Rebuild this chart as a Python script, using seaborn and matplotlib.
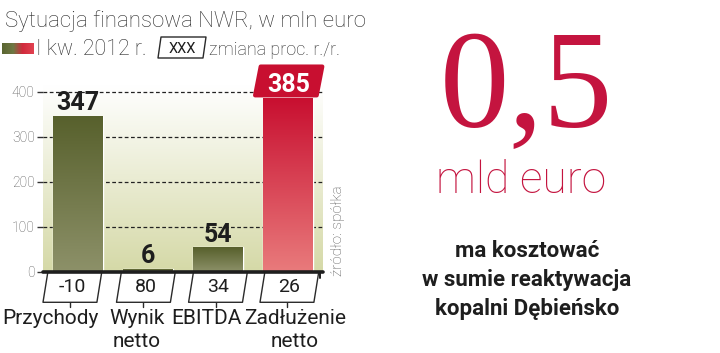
import numpy as np
import pandas as pd
import seaborn as sns
import matplotlib.pyplot as plt
from matplotlib.patches import Polygon, Rectangle
from matplotlib.colors import LinearSegmentedColormap

# --- data ---
categories = ["Przychody", "Wynik\nnetto", "EBITDA", "Zadłużenie\nnetto"]
values_q1_2012 = [347, 6, 54, 385]
change_yoy = [-10, 80, 34, 26]
highlight = [False, False, False, True]
yticks = [0, 100, 200, 300, 400]

title = "Sytuacja finansowa NWR, w mln euro"
legend_bar = "I kw. 2012 r."
legend_box = "XXX"
legend_change = "zmiana proc. r./r."
source = "źródło: spółka"
big_number = "0,5"
big_unit = "mld euro"
caption_lines = ["ma kosztować", "w sumie reaktywacja", "kopalni Dębieńsko"]

# --- styling ---
OLIVE_TOP, OLIVE_BOT = "#57602c", "#8d9169"
RED_TOP, RED_BOT = "#c80f30", "#e97b7c"
RED_TEXT = "#c4143f"
INK = "#1e1e1e"
label_dx = [-0.40, -0.16, -0.16, 0.10]
box_dx = [-0.08, -0.03, 0.0, 0.02]

sns.set_style("white")
plt.rcParams["font.family"] = ["Roboto", "DejaVu Sans"]

W, H = 720, 353
fig = plt.figure(figsize=(W / 100, H / 100), dpi=100)


def px(x, y, w, h):
    return [x / W, 1 - (y + h) / H, w / W, h / H]


ax = fig.add_axes(px(43, 85, 280, 186.7))

# background gradient
bg = LinearSegmentedColormap.from_list("bg", ["#d5d9a7", "#ffffff"])
grad = np.linspace(0, 1, 256).reshape(-1, 1)
ax.imshow(grad, cmap=bg, extent=[-0.5, 3.5, 0, 415], origin="lower",
          aspect="auto", zorder=0)

df = pd.DataFrame({"kategoria": categories, "wartosc": values_q1_2012})
palette = [RED_TOP if h else OLIVE_TOP for h in highlight]
sns.barplot(data=df, x="kategoria", y="wartosc", hue="kategoria", palette=palette,
            width=0.714, legend=False, saturation=1, ax=ax, zorder=2)

# vertical gradient on each bar
for bar, hi in zip(ax.patches, highlight):
    cm = LinearSegmentedColormap.from_list("g", [RED_BOT, RED_TOP] if hi else [OLIVE_BOT, OLIVE_TOP])
    x0, w, h = bar.get_x(), bar.get_width(), bar.get_height()
    im = ax.imshow(grad, cmap=cm, extent=[x0, x0 + w, 0, h], origin="lower",
                   aspect="auto", zorder=3)
    im.set_clip_path(bar)

ax.set_xlim(-0.5, 3.5)
ax.set_ylim(0, 415)
ax.set_yticks(yticks)
ax.set_xticks([])
ax.set_xlabel("")
ax.set_ylabel("")
for s in ax.spines.values():
    s.set_visible(False)
ax.set_axisbelow(True)
ax.yaxis.grid(True, color="#222222", lw=0.9, ls=(0, (3, 2)))
ax.tick_params(axis="y", left=True, length=4, width=1, color="#333333",
               labelcolor="#555555", labelsize=10, pad=2)
for t in ax.get_yticklabels():
    t.set_fontweight("light")

# baseline
ax.axhline(0, color=INK, lw=2.6, zorder=5, clip_on=False)
ax.plot([3.46, 3.46], [0, -14], color=INK, lw=1.4, clip_on=False, zorder=5)

# value labels
for i, (v, hi) in enumerate(zip(values_q1_2012, highlight)):
    if hi:
        cx, hw, sl = i + 0.01, 0.44, 0.04
        ax.add_patch(Polygon([(cx - hw + sl, 456), (cx + hw + sl, 456),
                              (cx + hw - sl, 392), (cx - hw - sl, 392)],
                             closed=True, fc=RED_TOP, ec=RED_TOP, lw=3,
                             joinstyle="round", clip_on=False, zorder=6))
        ax.text(cx, 400, f"{v}", color="white", ha="center", va="baseline",
                fontsize=18, fontweight="bold", clip_on=False, zorder=7)
    else:
        ax.annotate(f"{v}", (i, v), xytext=(0, 4), textcoords="offset points",
                    ha="center", va="baseline", fontsize=18, fontweight="bold",
                    color=INK, annotation_clip=False)

# change boxes and category labels
for i, (c, lab) in enumerate(zip(change_yoy, categories)):
    cx, hw, sl = i + box_dx[i], 0.385, 0.035
    ax.add_patch(Polygon([(cx - hw + sl, 0), (cx + hw + sl, 0),
                          (cx + hw - sl, -68), (cx - hw - sl, -68)],
                         closed=True, fc="white", ec="#2a2a2a", lw=1,
                         joinstyle="round", clip_on=False, zorder=4))
    ax.text(cx, -45, f"{c}", ha="center", va="baseline", fontsize=14,
            color=INK, clip_on=False, zorder=6)
    ax.plot([cx - sl, cx - sl], [-68, -79], color="#2a2a2a", lw=1, clip_on=False)
    ax.text(i + label_dx[i], -83, lab, ha="center", va="top", fontsize=15,
            color=INK, linespacing=1.26, clip_on=False)

# overlay in pixel coordinates for titles, legend and side note
ov = fig.add_axes([0, 0, 1, 1])
ov.set_xlim(0, W)
ov.set_ylim(H, 0)
ov.axis("off")

sw = LinearSegmentedColormap.from_list(
    "sw", [(0, "#5a6531"), (0.35, "#6f7743"), (0.65, "#d02a3c"), (1, "#e0404f")])
for k in range(32):
    ov.add_patch(Rectangle((2 + k, 43), 1.05, 11, fc=sw(k / 31), ec="none"))

ov.text(5, 27, title, fontsize=16, fontweight="light", color="#2b2b2b", va="baseline")
ov.text(36, 55, legend_bar, fontsize=15.5, fontweight="light", color="#2b2b2b", va="baseline")
ov.add_patch(Polygon([(161, 37), (206, 37), (203, 58), (158, 58)], closed=True,
                     fc="white", ec="#2a2a2a", lw=1, joinstyle="round"))
ov.text(182, 53, legend_box, fontsize=10.5, color=INK, ha="center", va="baseline")
ov.text(209, 55, legend_change, fontsize=13, fontweight="light", color="#2b2b2b", va="baseline")

ov.text(338, 276, source, rotation=90, ha="center", va="bottom", fontsize=11,
        fontweight="light", color="#555555")

ov.text(526, 127, big_number, fontsize=100, family=["Liberation Serif", "DejaVu Serif"],
        color=RED_TEXT, ha="center", va="baseline")
ov.text(521, 193, big_unit, fontsize=32, fontweight="light", color=RED_TEXT,
        ha="center", va="baseline")
for k, line in enumerate(caption_lines):
    ov.text(527, 257 + 29 * k, line, fontsize=16, fontweight="bold", color=INK,
            ha="center", va="baseline")

fig.savefig("out.png", dpi=100)
